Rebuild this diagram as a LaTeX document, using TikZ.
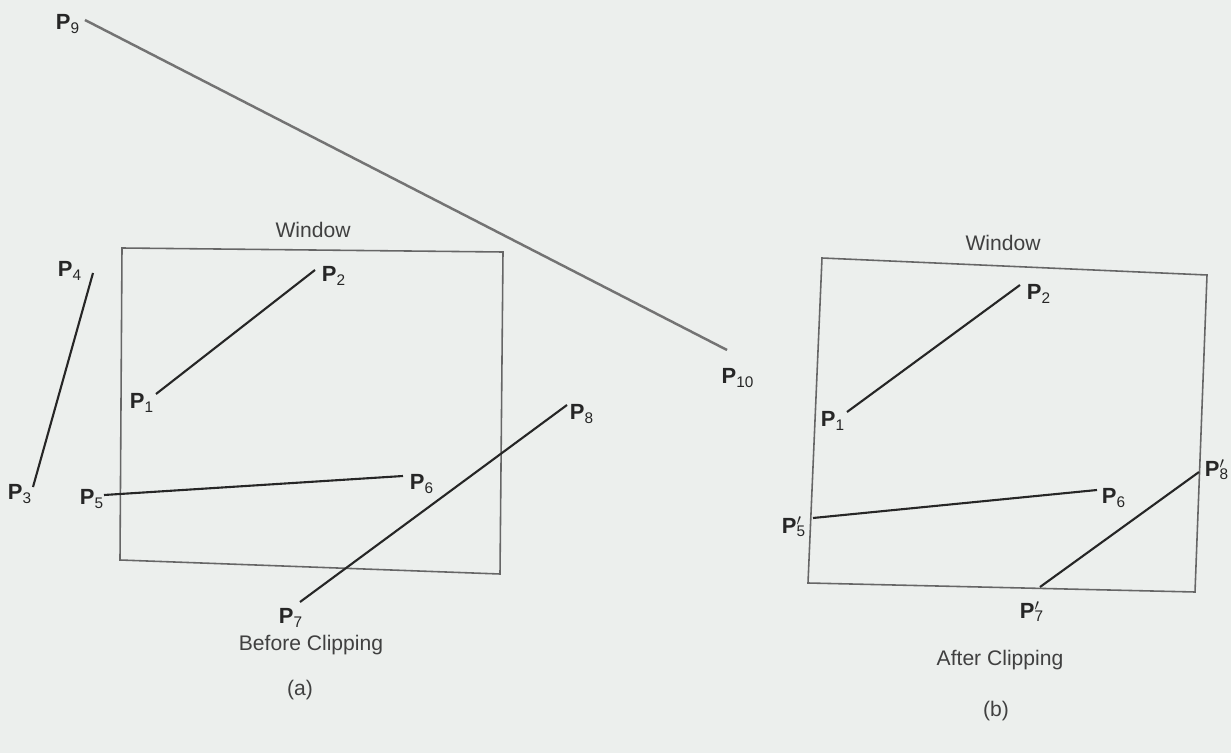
\documentclass[tikz,border=0pt]{standalone}
\usepackage{fontspec}
\setmainfont{Liberation Sans}
\usetikzlibrary{positioning,calc}

\definecolor{paper}{RGB}{236,239,237}
\newcommand{\pl}[1]{\textbf{P}\textsubscript{#1}}
\newcommand{\plp}[1]{\textbf{P}\rlap{$^{\prime}$}\textsubscript{#1}}

\begin{document}
\begin{tikzpicture}[
  x=0.02cm, y=-0.02cm,
  font=\fontsize{12.5}{14}\selectfont,
  win/.style={draw=black!60, line width=0.9pt},
  seg/.style={draw=black!85, line width=1.2pt},
  far/.style={draw=black!55, line width=1.4pt},
  lbl/.style={inner sep=1pt, text=black!85},
  captxt/.style={font=\fontsize{12}{14}\selectfont, text=black!75},
]
\useasboundingbox[fill=paper] (0,0) rectangle (1231,753);

% (a) window
\coordinate (aTL) at (122,248);
\coordinate (aTR) at (503,252);
\coordinate (aBR) at (500,574);
\coordinate (aBL) at (120,560);
\draw[win] (aTL) -- (aTR) -- (aBR) -- (aBL) -- cycle;
\node[captxt] (awin) at (313,230) {Window};

% (a) end points
\coordinate (a9)  at (85,20);
\coordinate (a10) at (727,350);
\coordinate (a4)  at (93,273);
\coordinate (a3)  at (33,487);
\coordinate (a1)  at (156,394);
\coordinate (a2)  at (315,270);
\coordinate (a5)  at (104,495);
\coordinate (a6)  at (403,476);
\coordinate (a7)  at (300,602);
\coordinate (a8)  at (567,405);

% (a) segments
\draw[far] (a9) -- (a10);
\draw[seg] (a4) -- (a3);
\draw[seg] (a1) -- (a2);
\draw[seg] (a5) -- (a6);
\draw[seg] (a7) -- (a8);

% (a) labels
\node[lbl] (la9)  at (68,24)   {\pl{9}};
\node[lbl] (la10) at (738,378) {\pl{10}};
\node[lbl] (la4)  at (70,271)  {\pl{4}};
\node[lbl] (la3)  at (20,494)  {\pl{3}};
\node[lbl] (la1)  at (142,403) {\pl{1}};
\node[lbl] (la2)  at (334,276) {\pl{2}};
\node[lbl] (la5)  at (92,499)  {\pl{5}};
\node[lbl] (la6)  at (422,484) {\pl{6}};
\node[lbl] (la7)  at (291,618) {\pl{7}};
\node[lbl] (la8)  at (582,414) {\pl{8}};

\node[captxt] (acap) at (311,645) {Before Clipping};
\node[captxt] (atag) at (300,690) {(a)};

% (b) window
\coordinate (bTL) at (822,258);
\coordinate (bTR) at (1207,275);
\coordinate (bBR) at (1195,592);
\coordinate (bBL) at (808,583);
\draw[win] (bTL) -- (bTR) -- (bBR) -- (bBL) -- cycle;
\node[captxt] (bwin) at (1003,243) {Window};

% (b) end points
\coordinate (b1) at (847,412);
\coordinate (b2) at (1020,285);
\coordinate (b5) at (813,518);
\coordinate (b6) at (1097,490);
\coordinate (b7) at (1040,587);
\coordinate (b8) at (1199,472);

% (b) segments
\draw[seg] (b1) -- (b2);
\draw[seg] (b5) -- (b6);
\draw[seg] (b7) -- (b8);

% (b) labels
\node[lbl] (lb1) at (833,421)  {\pl{1}};
\node[lbl] (lb2) at (1039,294) {\pl{2}};
\node[lbl] (lb5) at (794,527)  {\plp{5}};
\node[lbl] (lb6) at (1114,498) {\pl{6}};
\node[lbl] (lb7) at (1032,612) {\plp{7}};
\node[lbl] (lb8) at (1217,470) {\plp{8}};

\node[captxt] (bcap) at (1000,660) {After Clipping};
\node[captxt] (btag) at (996,711)  {(b)};

\end{tikzpicture}
\end{document}
